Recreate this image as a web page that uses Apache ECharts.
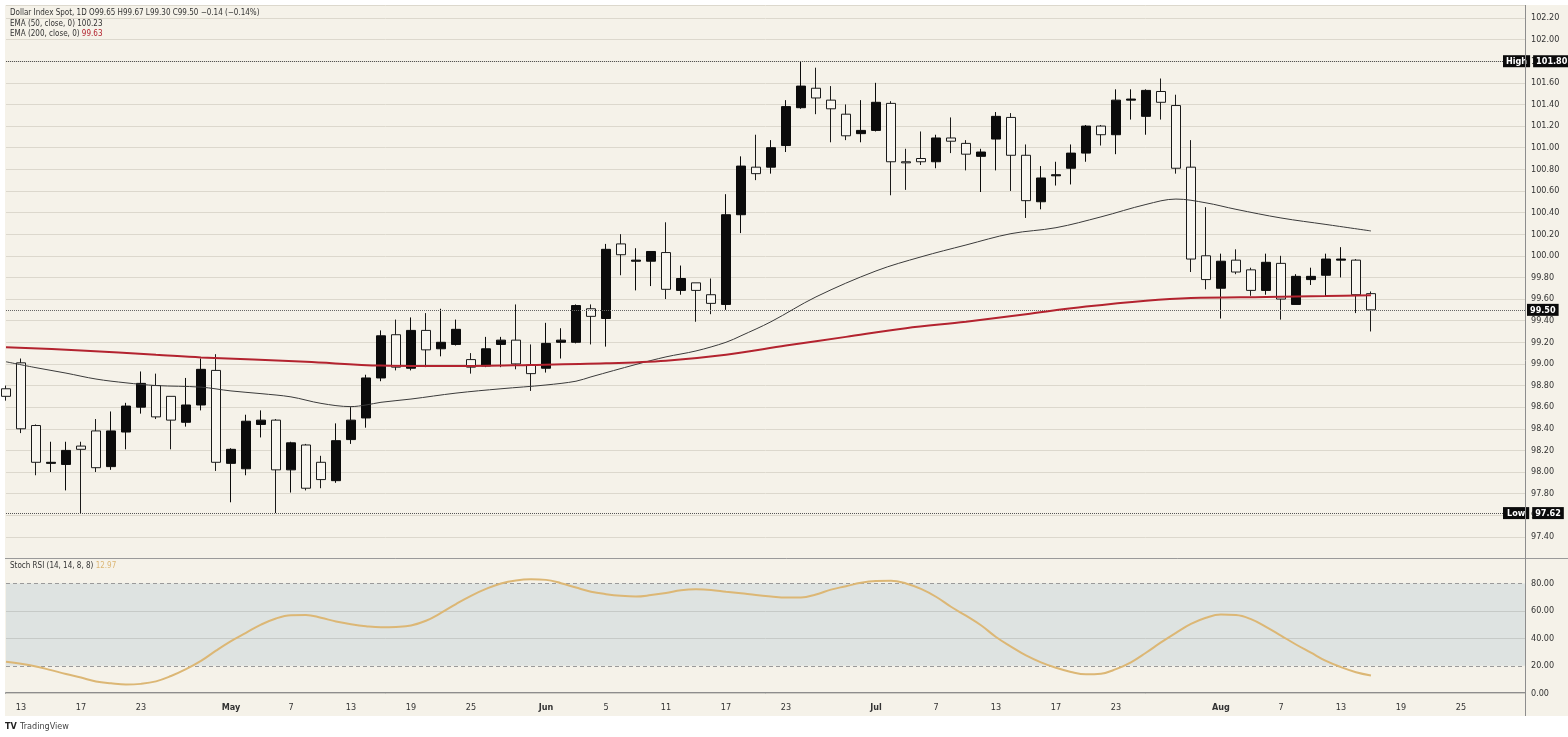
<!DOCTYPE html>
<html><head><meta charset="utf-8">
<script src="https://cdn.jsdelivr.net/npm/echarts@6/dist/echarts.min.js"></script>
<style>
html,body{margin:0;padding:0;background:#fff;width:1568px;height:737px;overflow:hidden}
#bg{position:absolute;left:5px;top:5px;width:1563px;height:711px;background:#f5f2e9}
#c{position:absolute;left:0;top:0;width:1568px;height:737px}
</style></head><body><div id="bg"></div><div id="c"></div>
<script>
// ---- data ----
const dates = ['2026-04-10','2026-04-13','2026-04-14','2026-04-15','2026-04-16','2026-04-17','2026-04-20','2026-04-21','2026-04-22','2026-04-23',
 '2026-04-24','2026-04-27','2026-04-28','2026-04-29','2026-04-30','2026-05-01','2026-05-04','2026-05-05','2026-05-06','2026-05-07',
 '2026-05-08','2026-05-11','2026-05-12','2026-05-13','2026-05-14','2026-05-15','2026-05-18','2026-05-19','2026-05-20','2026-05-21',
 '2026-05-22','2026-05-25','2026-05-26','2026-05-27','2026-05-28','2026-05-29','2026-06-01','2026-06-02','2026-06-03','2026-06-04',
 '2026-06-05','2026-06-08','2026-06-09','2026-06-10','2026-06-11','2026-06-12','2026-06-15','2026-06-16','2026-06-17','2026-06-18',
 '2026-06-19','2026-06-22','2026-06-23','2026-06-24','2026-06-25','2026-06-26','2026-06-29','2026-06-30','2026-07-01','2026-07-02',
 '2026-07-03','2026-07-06','2026-07-07','2026-07-08','2026-07-09','2026-07-10','2026-07-13','2026-07-14','2026-07-15','2026-07-16',
 '2026-07-17','2026-07-20','2026-07-21','2026-07-22','2026-07-23','2026-07-24','2026-07-27','2026-07-28','2026-07-29','2026-07-30',
 '2026-07-31','2026-08-03','2026-08-04','2026-08-05','2026-08-06','2026-08-07','2026-08-10','2026-08-11','2026-08-12','2026-08-13',
 '2026-08-14','2026-08-17'];

const opens = [98.77,99.01,98.43,98.08,98.07,98.24,98.38,98.05,98.37,98.60,
 98.80,98.70,98.46,98.62,98.94,98.08,98.03,98.44,98.48,98.02,
 98.25,98.09,97.92,98.30,98.50,98.87,99.27,98.96,99.31,99.14,
 99.18,99.04,98.98,99.18,99.22,98.99,98.96,99.20,99.20,99.51,
 99.42,100.11,99.95,99.95,100.03,99.68,99.75,99.64,99.55,100.38,
 100.82,100.82,101.02,101.37,101.55,101.44,101.31,101.13,101.16,101.41,
 100.87,100.90,100.87,101.09,101.04,100.92,101.08,101.28,100.93,100.50,
 100.74,100.81,100.95,101.20,101.12,101.44,101.29,101.52,101.39,100.82,
 100.00,99.70,99.96,99.87,99.68,99.93,99.55,99.78,99.82,99.96,
 99.96,99.65];
const highs = [98.80,99.05,98.44,98.28,98.28,98.28,98.49,98.56,98.64,98.93,
 98.91,98.70,98.87,99.05,99.09,98.22,98.53,98.57,98.49,98.28,
 98.26,98.15,98.45,98.60,98.90,99.31,99.41,99.43,99.47,99.51,
 99.41,99.10,99.25,99.25,99.55,99.18,99.38,99.33,99.55,99.55,
 100.11,100.20,100.07,100.04,100.31,99.91,99.75,99.79,100.57,100.92,
 101.12,101.07,101.44,101.80,101.74,101.57,101.40,101.44,101.60,101.43,
 100.99,101.15,101.12,101.28,101.07,100.99,101.33,101.32,101.03,100.83,
 100.87,101.03,101.21,101.21,101.54,101.54,101.54,101.64,101.49,101.07,
 100.45,100.02,100.06,99.89,100.02,100.00,99.83,99.89,100.02,100.08,
 99.97,99.67];
const lows = [98.66,98.36,97.97,98.00,97.83,97.62,98.00,98.02,98.21,98.54,
 98.49,98.21,98.42,98.57,98.01,97.72,97.97,98.32,97.62,97.81,
 97.83,97.85,97.90,98.26,98.41,98.84,98.94,98.94,98.97,99.07,
 99.17,98.91,98.97,98.97,98.95,98.75,98.92,99.05,99.19,99.18,
 99.16,99.82,99.68,99.72,99.60,99.64,99.39,99.46,99.50,100.21,
 100.70,100.76,100.96,101.36,101.31,101.05,101.07,101.05,101.15,100.56,
 100.61,100.84,100.81,100.95,100.79,100.59,100.79,100.60,100.35,100.43,
 100.65,100.66,100.87,101.02,100.94,101.26,101.12,101.26,100.76,99.85,
 99.69,99.42,99.83,99.63,99.64,99.41,99.55,99.73,99.62,99.80,
 99.47,99.30];
const closes = [98.70,98.40,98.09,98.09,98.20,98.21,98.04,98.38,98.61,98.82,
 98.51,98.48,98.62,98.95,98.09,98.21,98.47,98.48,98.02,98.27,
 97.85,97.93,98.29,98.48,98.87,99.26,98.97,99.31,99.13,99.20,
 99.32,98.97,99.14,99.22,99.00,98.91,99.19,99.22,99.54,99.44,
 100.06,100.01,99.96,100.04,99.69,99.79,99.68,99.56,100.38,100.83,
 100.76,101.00,101.38,101.57,101.46,101.36,101.11,101.16,101.42,100.87,
 100.86,100.87,101.09,101.06,100.94,100.96,101.29,100.93,100.51,100.72,
 100.75,100.95,101.20,101.12,101.44,101.45,101.53,101.42,100.81,99.97,
 99.78,99.95,99.85,99.68,99.94,99.60,99.81,99.81,99.97,99.97,
 99.64,99.50];

// EMA values read at bar positions: [barIndex, value]
const ema50 = [[0,99.02],[2,98.965],[4,98.915],[6,98.86],[8,98.825],[10,98.80],[13,98.785],[15,98.75],[17,98.725],[19,98.695],
 [21,98.635],[23,98.605],[24,98.62],[25,98.645],[27,98.675],[30,98.73],[33,98.77],[36,98.805],[38,98.84],[39,98.88],
 [42,98.995],[44,99.065],[46,99.12],[48,99.20],[49,99.26],[51,99.39],[54,99.62],[58,99.86],[61,99.99],[64,100.10],
 [67,100.205],[70,100.26],[73,100.36],[76,100.475],[78,100.525],[80,100.49],[82,100.43],[85,100.35],[88,100.29],[91,100.23]];
const ema200 = [[0,99.155],[5,99.125],[10,99.085],[13,99.06],[20,99.02],[25,98.985],[30,98.98],[35,98.99],[40,99.005],[44,99.03],
 [48,99.085],[52,99.17],[56,99.25],[60,99.33],[64,99.39],[68,99.46],[72,99.53],[76,99.585],[79,99.61],[84,99.62],[88,99.628],[91,99.635]];

// Stoch RSI per bar
const stochRsi = [22.9,21.5,19.5,16.8,14.0,11.4,8.6,7.2,6.3,6.8,
 8.6,12.5,17.5,23.5,31.0,38.0,44.0,50.0,54.5,56.8,
 57.0,55.0,52.3,50.3,48.8,48.0,48.3,49.4,52.8,58.5,
 65.0,71.0,76.0,80.0,82.2,83.0,82.6,80.2,77.0,74.0,
 72.2,71.0,70.5,71.5,73.0,75.0,75.7,75.3,74.0,72.8,
 71.5,70.5,69.7,69.8,72.0,75.5,78.0,80.5,81.8,82.0,
 80.0,76.0,70.3,63.0,56.5,49.5,41.0,34.0,27.5,22.5,
 18.5,15.5,13.8,14.2,17.5,22.5,29.5,37.0,44.0,50.5,
 55.0,57.3,57.0,54.0,48.4,42.0,35.5,29.5,23.5,19.0,
 15.3,12.97];

// time-axis tick labels (bar index -> text)
const tickIdx  = [1,5,9,15,19,23,27,31,36,40,44,48,52,58,62,66,70,74,81,85,89,93,97];
const tickText = ['13','17','23','May','7','13','19','25','Jun','5','11','17','23','Jul','7','13','17','23','Aug','7','13','19','25'];
const monthNames = ['May','Jun','Jul','Aug'];

const highValue = 101.80;
const lowValue = 97.62;
const ema50Last = 100.23;
const ema200Last = 99.63;

// ---- chart ----
const FONT = "'Liberation Sans Narrow','DejaVu Sans Condensed','Roboto Condensed','Liberation Sans',sans-serif";
const X_MAX = 101.27;
const labelMap = {};
tickIdx.forEach((t, k) => { labelMap[t] = tickText[k]; });

const candleData = dates.map((d, i) => [i, opens[i], closes[i], lows[i], highs[i]]);
const rsiData = stochRsi.map((v, i) => [i, v]);
const n = closes.length - 1;
const chg = closes[n] - closes[n - 1];
const fmt = v => v.toFixed(2);
const minus = s => s.replace('-', '\u2212');

const boxStyle = {backgroundColor:'#0b0b0b', color:'#fff', padding:[2,3,1,3], fontSize:9, fontFamily:FONT, fontWeight:'bold'};

const chart = echarts.init(document.getElementById('c'), null, {renderer:'canvas'});
chart.setOption({
  backgroundColor: 'transparent',
  animation: false,
  textStyle: {fontFamily: FONT},
  grid: [
    {left: 6, right: 43, top: 5, height: 553.5},
    {left: 6, right: 43, top: 556, height: 137.2}
  ],
  xAxis: [
    {type:'value', gridIndex:0, min:0, max:X_MAX, interval:1,
     axisLine:{show:false}, axisTick:{show:false}, axisLabel:{show:false}, splitLine:{show:false}},
    {type:'value', gridIndex:1, min:0, max:X_MAX, interval:1, offset:3,
     axisLine:{show:true, lineStyle:{color:'#8d8d8d', width:2}}, axisTick:{show:false}, splitLine:{show:false},
     axisLabel:{show:true, margin:7, fontSize:9, color:'#333', fontFamily:FONT, showMinLabel:true, showMaxLabel:true,
       formatter: v => {
         const r = Math.round(v);
         if (Math.abs(v - r) > 1e-6) return '';
         const t = labelMap[r];
         if (t === undefined) return '';
         return monthNames.indexOf(t) >= 0 ? '{m|' + t + '}' : t;
       },
       rich: {m: {fontWeight:'bold', fontSize:9, color:'#333', fontFamily:FONT}}}}
  ],
  yAxis: [
    {type:'value', gridIndex:0, position:'right', min:97.2, max:102.32, interval:0.2,
     axisLine:{show:false}, axisTick:{show:false},
     axisLabel:{margin:6, fontSize:9, color:'#333', fontFamily:FONT, showMaxLabel:false, showMinLabel:false, formatter: v => v.toFixed(2)},
     splitLine:{show:true, lineStyle:{color:'#dcd8cd', width:1}}},
    {type:'value', gridIndex:1, position:'right', min:0, max:100, interval:20,
     axisLine:{show:false}, axisTick:{show:false},
     axisLabel:{margin:6, fontSize:9, color:'#333', fontFamily:FONT, showMaxLabel:false, formatter: v => v >= 100 ? '' : v.toFixed(2)},
     splitLine:{show:false}}
  ],
  series: [
    {
      type:'candlestick', name:'Dollar Index Spot', xAxisIndex:0, yAxisIndex:0,
      data: candleData, encode:{x:0, y:[1,2,3,4]}, barWidth:10, clip:true,
      itemStyle:{color:'#0b0b0b', color0:'#f8f6f0', borderColor:'#0b0b0b', borderColor0:'#1a1a1a', borderWidth:1},
      markLine:{
        symbol:'none', silent:true, animation:false,
        data:[
          {yAxis:highValue, lineStyle:{type:'dotted', color:'#555', width:1},
           label:{show:true, position:'end', distance:0, offset:[-22,0], formatter:'{t|High}{g| }{v|' + fmt(highValue) + '}',
                  rich:{t:boxStyle, g:{width:3, fontSize:9}, v:boxStyle}}},
          {yAxis:lowValue, lineStyle:{type:'dotted', color:'#555', width:1},
           label:{show:true, position:'end', distance:0, offset:[-22,0], formatter:'{t|Low}{g| }{v|' + fmt(lowValue) + '}',
                  rich:{t:Object.assign({}, boxStyle, {padding:[2,4,1,4]}), g:{width:3, fontSize:9}, v:boxStyle}}},
          {yAxis:closes[n], lineStyle:{type:'dotted', color:'#666', width:1},
           label:{show:true, position:'end', distance:0, offset:[2,0], formatter:'{v|' + fmt(closes[n]) + '}', rich:{v:boxStyle}}}
        ]
      }
    },
    {type:'line', name:'EMA 50', xAxisIndex:0, yAxisIndex:0, data:ema50, showSymbol:false, smooth:0.35,
     lineStyle:{color:'#3a3a3a', width:1}, z:5},
    {type:'line', name:'EMA 200', xAxisIndex:0, yAxisIndex:0, data:ema200, showSymbol:false, smooth:0.35,
     lineStyle:{color:'#b3232f', width:2}, z:5},
    {type:'line', name:'Stoch RSI', xAxisIndex:1, yAxisIndex:1, data:rsiData, showSymbol:false, smooth:0.4,
     lineStyle:{color:'#dcb775', width:2}, z:5,
     markArea:{silent:true, itemStyle:{color:'#dee3e1'}, data:[[{yAxis:20},{yAxis:80}]]},
     markLine:{symbol:'none', silent:true, animation:false, label:{show:false},
       data:[
         {yAxis:80, lineStyle:{type:[4,3], color:'#9a9a9a', width:1}},
         {yAxis:20, lineStyle:{type:[4,3], color:'#9a9a9a', width:1}},
         {yAxis:60, lineStyle:{type:'solid', color:'#c6cac7', width:1}},
         {yAxis:40, lineStyle:{type:'solid', color:'#c6cac7', width:1}},
         {yAxis:0, lineStyle:{type:'solid', color:'#cfcdc5', width:1}}
       ]}}
  ],
  graphic: [
    {type:'line', silent:true, z:10, shape:{x1:5, y1:558.5, x2:1568, y2:558.5}, style:{stroke:'#9a9a9a', lineWidth:1}},
    {type:'line', silent:true, z:10, shape:{x1:1525.5, y1:5, x2:1525.5, y2:716}, style:{stroke:'#8d8d8d', lineWidth:1}},
    {type:'text', silent:true, z:10, left:10, top:9, style:{
      text:'Dollar Index Spot, 1D O' + fmt(opens[n]) + ' H' + fmt(highs[n]) + ' L' + fmt(lows[n]) + ' C' + fmt(closes[n]) + ' ' +
           minus(chg.toFixed(2)) + ' (' + minus((chg / closes[n - 1] * 100).toFixed(2)) + '%)',
      font:'8px ' + FONT, fill:'#333'}},
    {type:'text', silent:true, z:10, left:10, top:20, style:{
      text:'EMA (50, close, 0) ' + fmt(ema50Last), font:'8px ' + FONT, fill:'#333'}},
    {type:'text', silent:true, z:10, left:10, top:30, style:{
      text:'EMA (200, close, 0) {r|' + fmt(ema200Last) + '}', font:'8px ' + FONT, fill:'#333',
      rich:{r:{fill:'#b3232f', font:'8px ' + FONT}}}},
    {type:'text', silent:true, z:10, left:10, top:562, style:{
      text:'Stoch RSI (14, 14, 8, 8) {r|' + fmt(stochRsi[n]) + '}', font:'8px ' + FONT, fill:'#333',
      rich:{r:{fill:'#dcb775', font:'8px ' + FONT}}}},
    {type:'text', silent:true, z:10, left:5, top:721, style:{
      text:'{l|TV} {t|TradingView}', fill:'#333',
      rich:{l:{font:'bold 9px ' + FONT, fill:'#222'}, t:{font:'9px ' + FONT, fill:'#444'}}}}
  ]
});
</script></body></html>
